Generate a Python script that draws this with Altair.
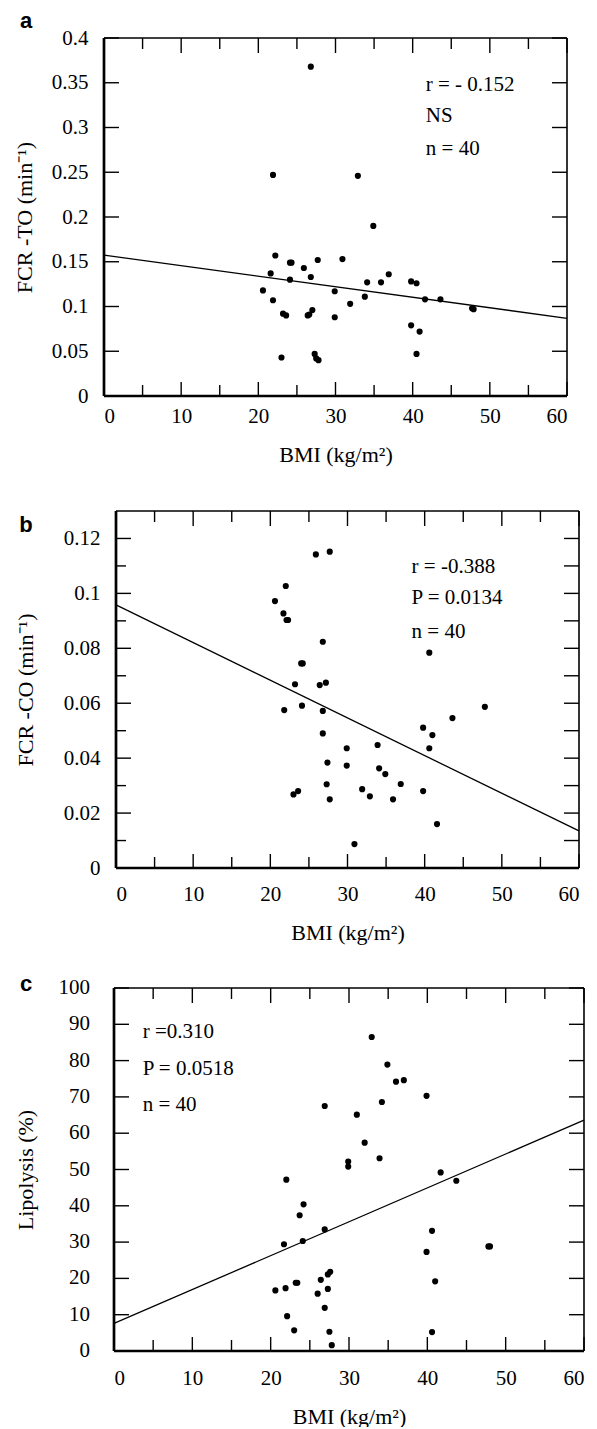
import altair as alt
import pandas as pd

# ---------------- data ----------------
# Panel a : FCR-TO vs BMI
a_bmi = [21.9, 26.8, 32.9, 22.2, 24.1, 24.3, 21.6, 24.1, 20.6, 21.9,
         23.2, 23.6, 23.0, 25.9, 27.7, 26.8, 30.9, 34.9, 29.9, 31.9,
         33.8, 34.1, 35.9, 36.9, 39.8, 40.5, 41.6, 43.6, 47.7, 47.9,
         26.4, 26.6, 27.0, 29.9, 39.8, 40.9, 40.5, 27.3, 27.5, 27.8]
a_fcr = [0.247, 0.368, 0.246, 0.157, 0.149, 0.149, 0.137, 0.130, 0.118, 0.107,
         0.092, 0.090, 0.043, 0.143, 0.152, 0.133, 0.153, 0.190, 0.117, 0.103,
         0.111, 0.127, 0.127, 0.136, 0.128, 0.126, 0.108, 0.108, 0.098, 0.097,
         0.090, 0.091, 0.096, 0.088, 0.079, 0.072, 0.047, 0.047, 0.042, 0.040]
a_fit = [0.1575, 0.0868]
a_note_x = 41.7
a_note_y = [0.3475, 0.3124, 0.276]
a_note_t = ["r = - 0.152", "NS", "n = 40"]

# Panel b : FCR-CO vs BMI
b_bmi = [22.0, 20.6, 21.7, 22.1, 22.3, 23.2, 24.0, 24.2, 21.8, 25.9,
         27.7, 26.8, 26.4, 27.2, 40.6, 47.8, 24.1, 26.8, 26.8, 27.4,
         27.3, 27.7, 23.0, 23.6, 29.9, 29.9, 30.9, 31.9, 32.9, 33.9,
         34.1, 34.9, 36.9, 35.9, 39.8, 41.0, 40.6, 39.8, 41.6, 43.6]
b_fcr = [0.1027, 0.0972, 0.0927, 0.0903, 0.0903, 0.0669, 0.0745, 0.0745, 0.0575, 0.1142,
         0.1152, 0.0824, 0.0666, 0.0675, 0.0784, 0.0587, 0.0591, 0.0572, 0.0490, 0.0384,
         0.0305, 0.0250, 0.0268, 0.0280, 0.0436, 0.0373, 0.0087, 0.0287, 0.0261, 0.0448,
         0.0363, 0.0342, 0.0306, 0.0250, 0.0511, 0.0484, 0.0436, 0.0280, 0.0160, 0.0546]
b_fit = [0.0958, 0.0135]
b_note_x = 38.3
b_note_y = [0.1095, 0.0982, 0.0861]
b_note_t = ["r = -0.388", "P = 0.0134", "n = 40"]

# Panel c : Lipolysis vs BMI
c_bmi = [32.9, 34.9, 36.0, 37.0, 39.9, 26.9, 34.2, 31.0, 32.0, 33.9,
         29.9, 29.9, 41.7, 43.7, 22.0, 24.2, 23.7, 26.9, 24.1, 21.7,
         40.6, 39.9, 47.8, 48.0, 27.6, 27.3, 26.4, 27.3, 26.0, 23.2,
         23.4, 21.9, 41.0, 26.9, 22.1, 23.0, 27.5, 27.8, 40.6, 20.6]
c_lip = [86.5, 78.9, 74.2, 74.6, 70.3, 67.5, 68.6, 65.1, 57.4, 53.1,
         52.2, 50.8, 49.2, 46.9, 47.2, 40.4, 37.4, 33.5, 30.3, 29.4,
         33.1, 27.3, 28.8, 28.8, 21.8, 21.1, 19.6, 17.1, 15.8, 18.8,
         18.8, 17.3, 19.2, 11.9, 9.6, 5.7, 5.3, 1.6, 5.2, 16.7]
c_fit = [7.6, 63.6]
c_note_x = 3.66
c_note_y = [88.0, 77.8, 67.8]
c_note_t = ["r =0.310", "P = 0.0518", "n = 40"]

fit_x = [0, 60]
x_major = [0, 10, 20, 30, 40, 50, 60]
x_minor = [5, 15, 25, 35, 45, 55]
a_y_major = [0, 0.05, 0.1, 0.15, 0.2, 0.25, 0.3, 0.35, 0.4]
b_y_major = [0, 0.02, 0.04, 0.06, 0.08, 0.1, 0.12]
b_y_minor = [0.01, 0.03, 0.05, 0.07, 0.09, 0.11]
b_y_all = [0.01, 0.02, 0.03, 0.04, 0.05, 0.06, 0.07, 0.08, 0.09, 0.1, 0.11, 0.12]
c_y_major = [0, 10, 20, 30, 40, 50, 60, 70, 80, 90, 100]

SERIF = "Liberation Serif"
SANS = "Liberation Sans"
XTITLE = "BMI (kg/m²)"


def panel(letter, letter_y, xs, ys, fit, ydom, ylabels, yfmt, yl_major, yl_minor,
          yr_ticks, ytitle, note_x, note_y, note_t, off, w, h,
          ypad, xpad, ytitle_x, xtitle_pad, text_labels=False):
    W = off + w
    xs_ = alt.Scale(domain=[0, 60], range=[off, W], nice=False, zero=False)
    ys_ = alt.Scale(domain=ydom, nice=False, zero=False)

    def X(f):
        return alt.X(f, type="quantitative", scale=xs_)

    def Y(f):
        return alt.Y(f, type="quantitative", scale=ys_)

    pts = pd.DataFrame({"bmi": xs, "val": ys})
    points = alt.Chart(pts).mark_circle(size=38, color="black", opacity=1).encode(
        x=alt.X("bmi:Q", scale=xs_,
                axis=alt.Axis(values=x_major, format="d", labelPadding=xpad,
                              labelOverlap=False, title=XTITLE,
                              titlePadding=xtitle_pad, titleX=(off + W) / 2)),
        y=alt.Y("val:Q", scale=ys_,
                axis=alt.Axis(values=ylabels, format=yfmt, labelPadding=ypad,
                              labels=not text_labels,
                              labelOverlap=False, offset=-off, title=ytitle,
                              titleX=ytitle_x, titleBaseline="middle")),
    )

    fit_df = pd.DataFrame({"bmi": fit_x, "val": fit})
    line = alt.Chart(fit_df).mark_line(color="black", strokeWidth=1.3).encode(
        x=X("bmi"), y=Y("val"))

    notes = alt.Chart(pd.DataFrame({"bmi": [note_x] * len(note_t), "val": note_y,
                                    "t": note_t})).mark_text(
        align="left", baseline="middle", font=SERIF, fontSize=21, color="black"
    ).encode(x=X("bmi"), y=Y("val"), text="t:N")

    lab = alt.Chart(pd.DataFrame({"t": [letter]})).mark_text(
        font=SANS, fontWeight="bold", fontSize=22, align="center",
        baseline="alphabetic", color="black"
    ).encode(x=alt.value(-78), y=alt.value(letter_y), text="t:N")

    # frame
    left = alt.Chart(pd.DataFrame({"bmi": [0]})).mark_rule(
        color="black", strokeWidth=2.7).encode(x=X("bmi"))
    right = alt.Chart(pd.DataFrame({"bmi": [60]})).mark_rule(
        color="black", strokeWidth=1.6).encode(x=X("bmi"))
    bottom = alt.Chart(pd.DataFrame({"val": [ydom[0]], "bmi": [0], "x1": [60]})).mark_rule(
        color="black", strokeWidth=2.7).encode(y=Y("val"), x=X("bmi"), x2="x1")
    top = alt.Chart(pd.DataFrame({"val": [ydom[1]], "bmi": [0], "x1": [60]})).mark_rule(
        color="black", strokeWidth=1.6).encode(y=Y("val"), x=X("bmi"), x2="x1")

    # inward ticks
    tk = dict(color="black", strokeWidth=1.4)
    xmaj = pd.DataFrame({"bmi": x_major})
    xmin = pd.DataFrame({"bmi": x_minor})
    b_maj = alt.Chart(xmaj).mark_rule(**tk).encode(x=X("bmi"), y=alt.value(h), y2=alt.value(h - 14))
    b_min = alt.Chart(xmin).mark_rule(**tk).encode(x=X("bmi"), y=alt.value(h), y2=alt.value(h - 11))
    t_maj = alt.Chart(xmaj).mark_rule(**tk).encode(x=X("bmi"), y=alt.value(0), y2=alt.value(15))
    t_min = alt.Chart(xmin).mark_rule(**tk).encode(x=X("bmi"), y=alt.value(0), y2=alt.value(11))
    l_maj = alt.Chart(pd.DataFrame({"val": yl_major})).mark_rule(**tk).encode(
        y=Y("val"), x=alt.value(off), x2=alt.value(off + 15))
    layers = [points, line, notes, lab, left, right, bottom, top,
              b_maj, b_min, t_maj, t_min, l_maj]
    if yl_minor:
        l_min = alt.Chart(pd.DataFrame({"val": yl_minor})).mark_rule(**tk).encode(
            y=Y("val"), x=alt.value(off), x2=alt.value(off + 10))
        layers.append(l_min)
    r_t = alt.Chart(pd.DataFrame({"val": yr_ticks})).mark_rule(**tk).encode(
        y=Y("val"), x=alt.value(W - 15), x2=alt.value(W))
    layers.append(r_t)
    if text_labels:
        ylab = alt.Chart(pd.DataFrame({"val": ylabels,
                                       "t": [str(v) for v in ylabels]})).mark_text(
            align="right", baseline="middle", font=SERIF, fontSize=21, color="black"
        ).encode(y=Y("val"), x=alt.value(off - ypad), text="t:N")
        layers.append(ylab)
    return alt.layer(*layers).properties(width=W, height=h)


pa = panel("a", -10, a_bmi, a_fcr, a_fit, [0, 0.4], a_y_major, "~g", a_y_major, [],
           a_y_major, "FCR -TO (min⁻¹)", a_note_x, a_note_y, a_note_t,
           off=0, w=463, h=358, ypad=16, xpad=9, ytitle_x=-80, xtitle_pad=18)
pb = panel("b", 21, b_bmi, b_fcr, b_fit, [0, 0.13], b_y_major, "~g", b_y_major, b_y_minor,
           b_y_all, "FCR -CO (min⁻¹)", b_note_x, b_note_y, b_note_t,
           off=12, w=463, h=357, ypad=16, xpad=15, ytitle_x=-91, xtitle_pad=18)
pc = panel("c", 3, c_bmi, c_lip, c_fit, [0, 100], c_y_major, "d", c_y_major, [],
           c_y_major, "Lipolysis (%)", c_note_x, c_note_y, c_note_t,
           off=10, w=470, h=363, ypad=24, xpad=16, ytitle_x=-89, xtitle_pad=18,
           text_labels=True)

upper = alt.vconcat(pa, pb, spacing=44)
chart = alt.vconcat(upper, pc, spacing=30).properties(
    padding={"left": 5, "top": 2, "right": 0, "bottom": 0}
).configure_view(strokeWidth=0).configure_axis(
    grid=False, ticks=False, tickSize=0, domain=False,
    labelFont=SERIF, labelFontSize=21, labelColor="black",
    titleFont=SERIF, titleFontSize=22, titleFontWeight="normal", titleColor="black"
)

chart.save("out.html", embed_options={"renderer": "svg", "actions": False})
